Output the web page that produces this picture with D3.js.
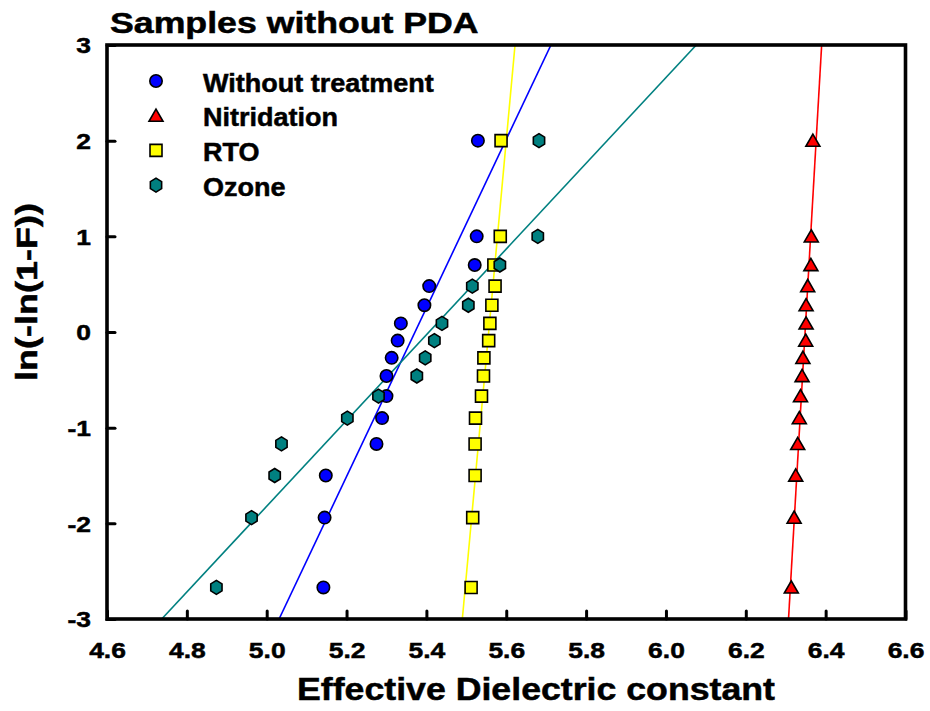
<!DOCTYPE html>
<html>
<head>
<meta charset="utf-8">
<script src="https://cdn.jsdelivr.net/npm/d3@7"></script>
<style>
  html, body { margin: 0; padding: 0; background: #fff; }
  svg { display: block; font-family: "Liberation Sans", Arial, sans-serif; font-weight: bold; }
  svg text { stroke: #000; stroke-width: 0.5px; fill: #000; }
</style>
</head>
<body>
<svg id="chart" width="930" height="711"></svg>
<script>
// Weibull plotting positions ln(-ln(1-F)) shared by all four sample sets
const weibullY = [-2.67, -1.94, -1.50, -1.17, -0.90, -0.67, -0.46, -0.27, -0.09, 0.09, 0.28, 0.48, 0.70, 1.00, 2.00];

// Effective dielectric constant of each sample, sorted ascending
const withoutTreatment = [5.142, 5.145, 5.148, 5.275, 5.289, 5.300, 5.300, 5.313, 5.328, 5.336, 5.395, 5.407, 5.521, 5.526, 5.529];
const nitridation      = [6.314, 6.321, 6.325, 6.330, 6.334, 6.337, 6.341, 6.343, 6.350, 6.351, 6.351, 6.355, 6.363, 6.364, 6.368];
const rto              = [5.512, 5.516, 5.522, 5.522, 5.523, 5.538, 5.543, 5.544, 5.556, 5.559, 5.564, 5.572, 5.569, 5.585, 5.587];
const ozone            = [4.874, 4.962, 5.020, 5.037, 5.202, 5.280, 5.376, 5.397, 5.420, 5.439, 5.505, 5.515, 5.584, 5.679, 5.682];

// Weibull fit lines: dielectric constant at ln(-ln(1-F)) = -3 and = 3
const fitWithout     = [5.031, 5.712];
const fitNitridation = [6.307, 6.390];
const fitRto         = [5.490, 5.622];
const fitOzone       = [4.737, 6.076];

const seriesNames = ["Without treatment", "Nitridation", "RTO", "Ozone"];
const xTicks = [4.6, 4.8, 5.0, 5.2, 5.4, 5.6, 5.8, 6.0, 6.2, 6.4, 6.6];
const yTicks = [-3, -2, -1, 0, 1, 2, 3];

const series = [
  { name: seriesNames[0], xs: withoutTreatment, fit: fitWithout,     color: "#0000ff", shape: "circle" },
  { name: seriesNames[1], xs: nitridation,      fit: fitNitridation, color: "#ff0000", shape: "triangle" },
  { name: seriesNames[2], xs: rto,              fit: fitRto,         color: "#ffff00", shape: "square" },
  { name: seriesNames[3], xs: ozone,            fit: fitOzone,       color: "#008080", shape: "hexagon" }
];

const svg = d3.select("#chart");
const plotL = 107, plotR = 905.5, plotT = 45, plotB = 619;

const x = d3.scaleLinear().domain([4.6, 6.6]).range([plotL, plotR]);
const y = d3.scaleLinear().domain([-3, 3]).range([plotB, plotT]);

// widen glyphs horizontally to the heavy wide lettering of the plot
function stretch(sel, k) {
  sel.each(function () {
    const w = this.getComputedTextLength();
    d3.select(this).attr("textLength", w * k).attr("lengthAdjust", "spacingAndGlyphs");
  });
}

function markerPath(shape) {
  switch (shape) {
    case "circle":
      return "M6.2,0A6.2,6.2 0 1,1 -6.2,0A6.2,6.2 0 1,1 6.2,0Z";
    case "triangle":
      return "M0,-6.6L7,5.6L-7,5.6Z";
    case "square":
      return "M-6,-6H6V6H-6Z";
    case "hexagon": {
      const r = 7;
      const pts = d3.range(6).map(i => {
        const a = Math.PI / 3 * i - Math.PI / 2;
        return [r * Math.cos(a) * 0.93, r * Math.sin(a)];
      });
      return "M" + pts.map(p => p.join(",")).join("L") + "Z";
    }
  }
}

svg.append("clipPath").attr("id", "plotClip")
  .append("rect").attr("x", plotL).attr("y", plotT).attr("width", plotR - plotL).attr("height", plotB - plotT);

// fit lines and sample markers
const ends = [-3, 3];
series.forEach(s => {
  svg.append("line")
    .attr("clip-path", "url(#plotClip)")
    .attr("x1", x(s.fit[0])).attr("y1", y(ends[0]))
    .attr("x2", x(s.fit[1])).attr("y2", y(ends[1]))
    .attr("stroke", s.color).attr("stroke-width", 1.6);
});
series.forEach(s => {
  svg.append("g").selectAll("path")
    .data(s.xs.map((v, i) => [v, weibullY[i]]))
    .join("path")
    .attr("d", markerPath(s.shape))
    .attr("transform", d => `translate(${x(d[0])},${y(d[1])})`)
    .attr("fill", s.color)
    .attr("stroke", "#000").attr("stroke-width", 1.6);
});

// axes with inward ticks; plain hyphen for negative labels
const xAxis = svg.append("g").attr("transform", `translate(0,${plotB})`)
  .call(d3.axisBottom(x).tickValues(xTicks).tickFormat(d => d.toFixed(1)).tickSizeInner(-8).tickSizeOuter(0));
const yAxis = svg.append("g").attr("transform", `translate(${plotL},0)`)
  .call(d3.axisLeft(y).tickValues(yTicks).tickFormat(d => String(d)).tickSizeInner(-8).tickSizeOuter(0));

[xAxis, yAxis].forEach(g => {
  g.select(".domain").remove();
  g.selectAll(".tick line").attr("stroke", "#000").attr("stroke-width", 3).attr("stroke-linecap", "round");
  g.selectAll(".tick text").attr("fill", "#000").attr("font-size", 22).attr("font-weight", "bold")
    .attr("font-family", "'Liberation Sans', Arial, sans-serif");
});
xAxis.selectAll(".tick text").attr("y", 38.7).attr("dy", null);
yAxis.selectAll(".tick text").attr("x", -16).attr("dy", "0.36em");
stretch(xAxis.selectAll(".tick text"), 1.2);
stretch(yAxis.selectAll(".tick text"), 1.2);

// frame
svg.append("rect")
  .attr("x", plotL).attr("y", plotT).attr("width", plotR - plotL).attr("height", plotB - plotT)
  .attr("fill", "none").attr("stroke", "#000").attr("stroke-width", 3.6);

// title and axis titles
stretch(svg.append("text").attr("x", 110).attr("y", 32.5).attr("font-size", 29)
  .text("Samples without PDA"), 1.23);

stretch(svg.append("text").attr("x", 536).attr("y", 700).attr("text-anchor", "middle").attr("font-size", 32)
  .text("Effective Dielectric constant"), 1.115);

stretch(svg.append("text").attr("transform", "translate(37,292) rotate(-90)")
  .attr("text-anchor", "middle").attr("font-size", 30)
  .text("ln(-ln(1-F))"), 1.2);

// legend
const legendRowY = d3.scaleLinear().domain([0, 1]).range([81, 115.7]);
series.forEach((s, i) => {
  svg.append("path")
    .attr("d", markerPath(s.shape))
    .attr("transform", `translate(156,${legendRowY(i)})`)
    .attr("fill", s.color).attr("stroke", "#000").attr("stroke-width", 1.6);
  stretch(svg.append("text")
    .attr("x", 203).attr("y", legendRowY(i) + 10.5).attr("font-size", 25)
    .text(s.name), 1.08);
});
</script>
</body>
</html>
